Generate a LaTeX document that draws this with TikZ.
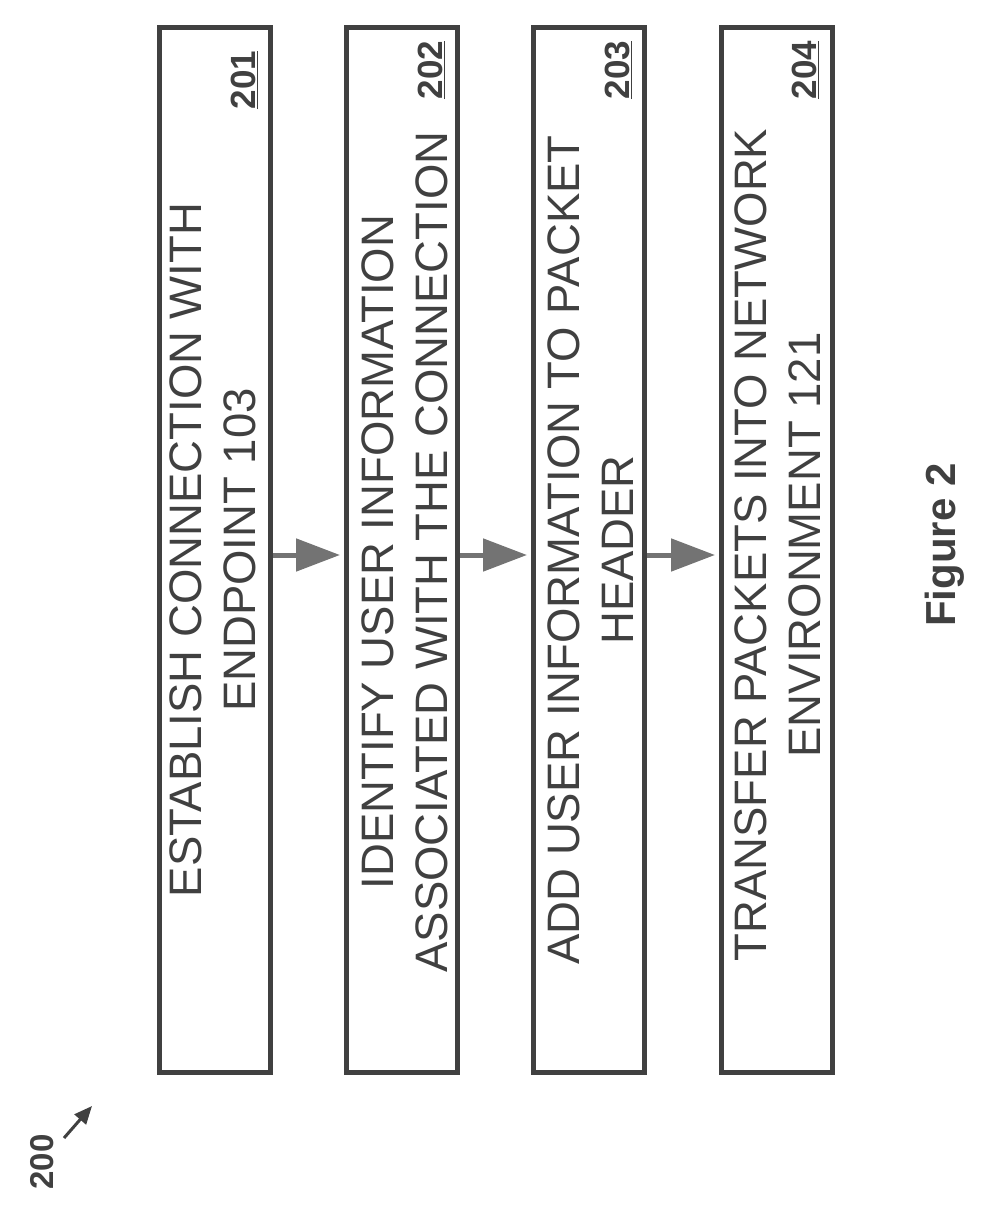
\documentclass[tikz,border=0pt]{standalone}
\usepackage{fontspec}
\setmainfont{Liberation Sans}
\usetikzlibrary{arrows.meta}
\definecolor{ink}{gray}{0.25}
\definecolor{shade}{gray}{0.45}
\begin{document}
\begin{tikzpicture}[x=1pt,y=-1pt,
  box/.style={draw=ink,line width=5pt,minimum width=111pt,minimum height=1045pt,inner sep=0pt},
  txt/.style={rotate=90,align=center,text=ink,font=\fontsize{45.5}{54}\selectfont,inner sep=0pt},
  num/.style={rotate=90,text=ink,font=\bfseries\fontsize{35}{40}\selectfont,inner sep=0pt},
  arr/.style={draw=black,line width=5pt,color=shade,-{Triangle[length=44pt,width=32pt]},shorten >=4pt}]
\useasboundingbox (0,0) rectangle (992,1222);
\node[box] (b1) at (215,550) {};
\node[box] (b2) at (402,550) {};
\node[box] (b3) at (589,550) {};
\node[box] (b4) at (777,550) {};
\node[txt] (t1) at (213,550) {ESTABLISH CONNECTION WITH\\ENDPOINT 103};
\node[txt] (t2) at (405,552) {IDENTIFY USER INFORMATION\\ASSOCIATED WITH THE CONNECTION};
\node[txt] (t3) at (591,550) {ADD USER INFORMATION TO PACKET\\HEADER};
\node[txt] (t4) at (778,545) {TRANSFER PACKETS INTO NETWORK\\ENVIRONMENT 121};
\node[num] (n1) at (244,80) {\underline{201}};
\node[num] (n2) at (431,70) {\underline{202}};
\node[num] (n3) at (618,70) {\underline{203}};
\node[num] (n4) at (805,70) {\underline{204}};
\coordinate (a1s) at ([yshift=-5pt]b1.east);
\coordinate (a1e) at ([yshift=-5pt]b2.west);
\coordinate (a2s) at ([yshift=-5pt]b2.east);
\coordinate (a2e) at ([yshift=-5pt]b3.west);
\coordinate (a3s) at ([yshift=-5pt]b3.east);
\coordinate (a3e) at ([yshift=-5pt]b4.west);
\draw[arr] (a1s) -- (a1e);
\draw[arr] (a2s) -- (a2e);
\draw[arr] (a3s) -- (a3e);
\node[rotate=90,text=ink,font=\bfseries\fontsize{42}{48}\selectfont] (fig) at (945,545) {Figure 2};
\node[rotate=90,text=ink,font=\bfseries\fontsize{33}{38}\selectfont] (l200) at (42,1162) {200};
\coordinate (l200tip) at (92,1106);
\draw[ink,line width=3pt,-{Triangle[length=18pt,width=15pt]}] (64,1138) -- (l200tip);
\end{tikzpicture}
\end{document}
